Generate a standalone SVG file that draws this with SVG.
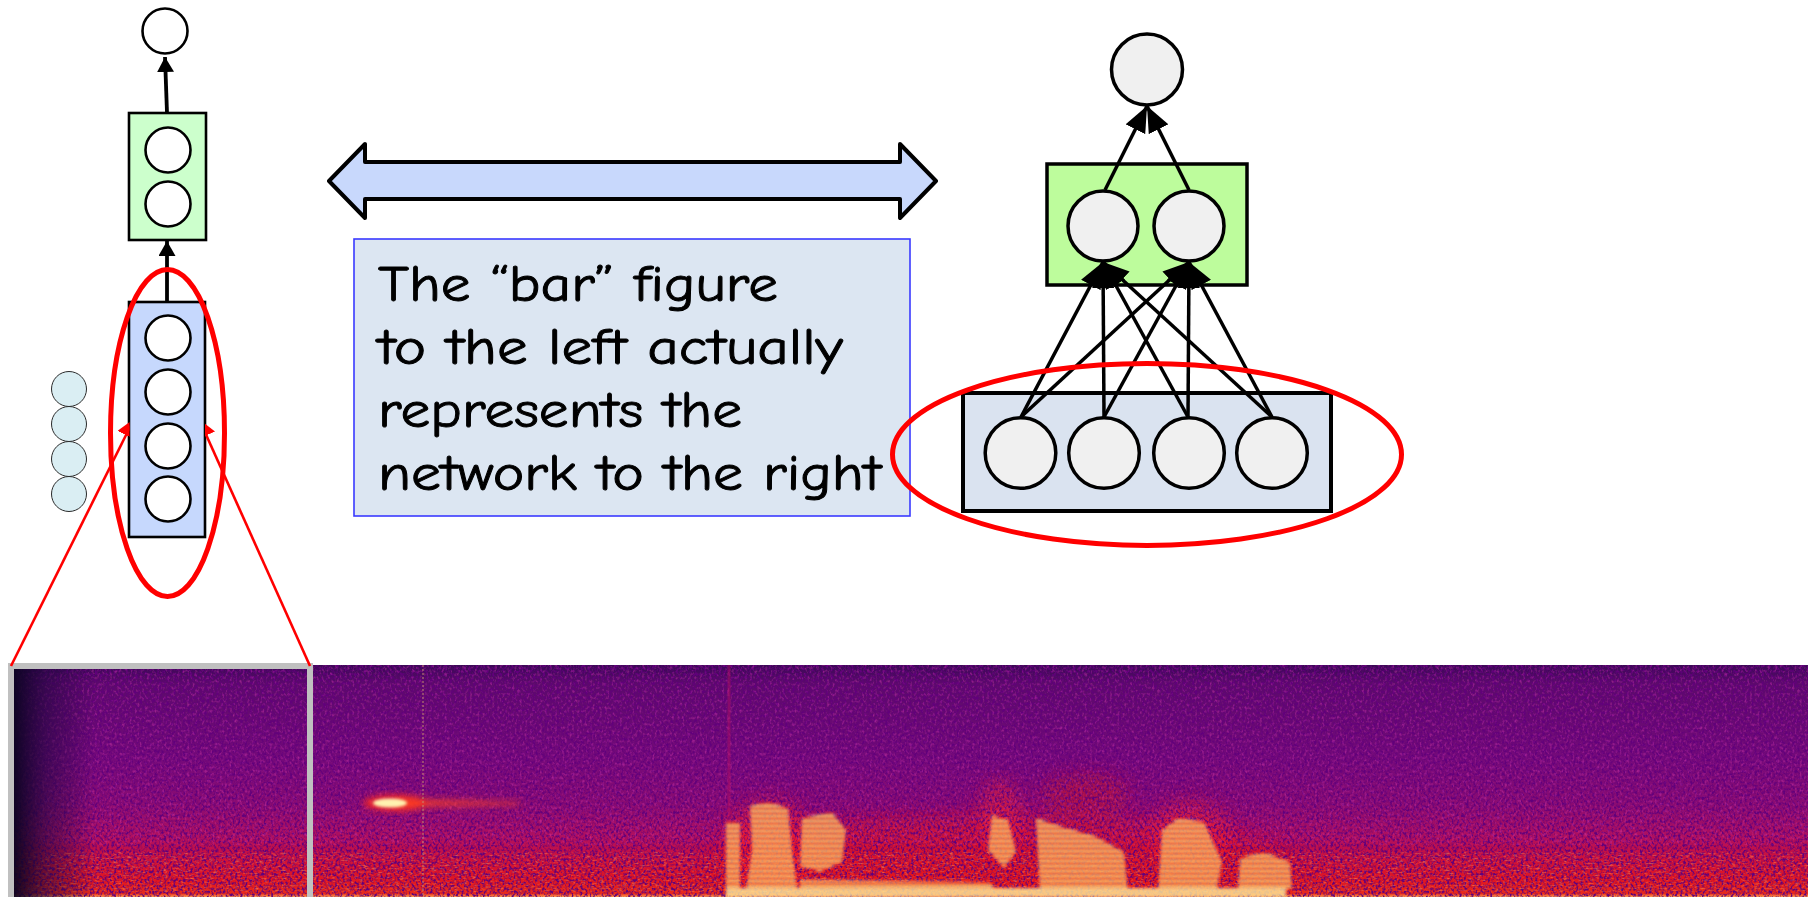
<svg xmlns="http://www.w3.org/2000/svg" width="1815" height="897" viewBox="0 0 1815 897">
<style>
.node-c{fill:#ffffff;stroke:#000;stroke-width:2.6}
.net-c{fill:#f0f0f0;stroke:#000;stroke-width:3.5}
.edge{stroke:#000;stroke-width:3.5;fill:none}
.bar-edge{stroke:#000;stroke-width:3.8;fill:none}
.red-l{stroke:#ff0000;stroke-width:2.6;fill:none}
.red-e{stroke:#ff0000;stroke-width:5;fill:none}
.small-c{fill:#daeef3;stroke:#2a2a2a;stroke-width:1}
.label{font-family:'Comic Sans MS','Comic Neue','Open Sans',sans-serif;font-size:50px;fill:#000;stroke:#000;stroke-width:0.9}
</style>
<defs>
<marker id="arrS" markerUnits="userSpaceOnUse" markerWidth="15" markerHeight="17" refX="15" refY="8.5" orient="auto" viewBox="0 0 15 17"><path d="M0,0 L15,8.5 L0,17 z" fill="#000"/></marker>
<marker id="arrN" markerUnits="userSpaceOnUse" markerWidth="26" markerHeight="22" refX="26" refY="11" orient="auto" viewBox="0 0 26 22"><path d="M0,0 L26,11 L0,22 z" fill="#000"/></marker>
<marker id="arrR" markerUnits="userSpaceOnUse" markerWidth="18" markerHeight="19" refX="18" refY="9.5" orient="auto" viewBox="0 0 18 19"><path d="M0,0 L18,9.5 L0,19 z" fill="#ff0000"/></marker>
<linearGradient id="specGrad" x1="0" y1="665" x2="0" y2="897" gradientUnits="userSpaceOnUse">
<stop offset="0" stop-color="#3a0856"/>
<stop offset="0.08" stop-color="#5c0a6c"/>
<stop offset="0.4" stop-color="#740a7a"/>
<stop offset="0.6" stop-color="#8a0c72"/>
<stop offset="0.74" stop-color="#b0105e"/>
<stop offset="0.84" stop-color="#d01238"/>
<stop offset="0.93" stop-color="#e01620"/>
<stop offset="0.985" stop-color="#e82a1c"/>
<stop offset="1" stop-color="#ffa050"/>
</linearGradient>
<linearGradient id="leftFade" x1="14" y1="0" x2="95" y2="0" gradientUnits="userSpaceOnUse">
<stop offset="0" stop-color="#0a0420" stop-opacity="0.95"/>
<stop offset="0.4" stop-color="#1a0638" stop-opacity="0.55"/>
<stop offset="1" stop-color="#1a0638" stop-opacity="0"/>
</linearGradient>
<pattern id="stripes" width="8" height="5" patternUnits="userSpaceOnUse">
<rect width="8" height="5" fill="#f02018"/>
<rect width="8" height="2.4" fill="#ffe880"/>
</pattern>
<filter id="speckle" x="0" y="0" width="100%" height="100%">
<feTurbulence type="fractalNoise" baseFrequency="0.42 0.34" numOctaves="2" seed="7"/>
<feColorMatrix type="matrix" values="0 0 0 0 0.12  0 0 0 0 0  0 0 0 0 0.2  3.4 0 0 0 -1.45"/>
</filter>
<filter id="speckle2" x="0" y="0" width="100%" height="100%">
<feTurbulence type="fractalNoise" baseFrequency="0.4 0.3" numOctaves="2" seed="21"/>
<feColorMatrix type="matrix" values="0 0 0 0 0.75  0 0 0 0 0.05  0 0 0 0 0.45  0 2.6 0 0 -1.3"/>
</filter>
<filter id="speckle3" x="0" y="0" width="100%" height="100%">
<feTurbulence type="fractalNoise" baseFrequency="0.22 0.6" numOctaves="2" seed="4"/>
<feColorMatrix type="matrix" values="0 0 0 0 1  0 0 0 0 0.3  0 0 0 0 0.1  0 3 0 0 -1.6"/>
</filter>
<filter id="blur1" x="-20%" y="-20%" width="140%" height="140%"><feGaussianBlur stdDeviation="1.4"/></filter>
<filter id="blur3" x="-20%" y="-20%" width="140%" height="140%"><feGaussianBlur stdDeviation="3"/></filter>
<filter id="blur8" x="-30%" y="-30%" width="160%" height="160%"><feGaussianBlur stdDeviation="9"/></filter>
<clipPath id="specClip"><rect x="14" y="669" width="293" height="228"/><rect x="313" y="665" width="1495" height="232"/></clipPath>
<clipPath id="outsideBar"><rect x="0" y="0" width="129.5" height="897"/><rect x="205" y="0" width="200" height="897"/></clipPath>
</defs>
<rect width="1815" height="897" fill="#ffffff"/>

<!-- spectrogram -->
<g id="spectrogram">
<g clip-path="url(#specClip)">
<rect x="9" y="665" width="1800" height="232" fill="url(#specGrad)"/>
<g filter="url(#blur8)">
<ellipse cx="1000" cy="860" rx="290" ry="45" fill="#e8141c" opacity="0.5"/>
<ellipse cx="1085" cy="795" rx="45" ry="22" fill="#c8102c" opacity="0.55"/>
<ellipse cx="770" cy="845" rx="45" ry="45" fill="#ff2020" opacity="0.55"/>
<ellipse cx="1000" cy="820" rx="22" ry="40" fill="#ff2020" opacity="0.5"/>
<ellipse cx="1190" cy="835" rx="40" ry="35" fill="#ff2020" opacity="0.5"/>
</g>
<rect x="9" y="665" width="1800" height="232" filter="url(#speckle)"/>
<rect x="9" y="665" width="1800" height="180" filter="url(#speckle2)" opacity="0.45"/>
<rect x="9" y="852" width="1800" height="40" filter="url(#speckle3)" opacity="0.55"/>
<g filter="url(#blur3)">
<ellipse cx="395" cy="803" rx="32" ry="9" fill="#ff2a20" opacity="0.8"/>
<polygon points="395,798 520,802 520,805 395,808" fill="#ff4020" opacity="0.75"/>
</g>
<ellipse cx="390" cy="803" rx="17" ry="4.5" fill="#fff2b0" filter="url(#blur1)"/>
<line x1="729" y1="665" x2="729" y2="830" stroke="#c01060" stroke-width="3" opacity="0.4"/>
<g filter="url(#blur1)" opacity="0.82">
<rect x="726" y="822" width="14" height="75" fill="url(#stripes)"/>
<polygon points="750,806 768,802 788,808 792,850 798,897 745,897 752,850" fill="url(#stripes)"/>
<polygon points="802,818 832,812 846,830 842,862 820,872 800,866" fill="url(#stripes)"/>
<polygon points="800,880 990,882 1000,897 800,897" fill="url(#stripes)"/>
<polygon points="992,815 1008,820 1016,852 1004,868 988,850" fill="url(#stripes)"/>
<polygon points="1036,818 1060,826 1095,836 1124,852 1128,893 1040,893" fill="url(#stripes)"/>
<polygon points="1162,830 1178,818 1204,822 1222,862 1216,893 1158,893" fill="url(#stripes)"/>
<polygon points="1240,858 1264,852 1290,862 1292,890 1238,890" fill="url(#stripes)"/>
<rect x="726" y="888" width="560" height="9" fill="#ffec98"/>
</g>
<line x1="423" y1="665" x2="423" y2="897" stroke="#c89070" stroke-width="1.2" stroke-dasharray="2 2" opacity="0.8"/>
<rect x="14" y="669" width="81" height="228" fill="url(#leftFade)"/>
</g>
<rect x="11" y="666" width="299" height="234" fill="none" stroke="#c0c0c0" stroke-width="6"/>
</g>

<!-- left bar figure -->
<g id="bar-output">
<circle class="node-c" cx="165" cy="31" r="22.5"/>
</g>
<g id="bar-hidden">
<rect x="129" y="113" width="77" height="127" fill="#ccffcc" stroke="#000" stroke-width="2.6"/>
<circle class="node-c" cx="168" cy="150" r="22.5"/>
<circle class="node-c" cx="168" cy="204" r="22.5"/>
</g>
<g id="bar-input">
<rect x="129" y="302" width="76" height="235" fill="#c6d8fd" stroke="#000" stroke-width="2.6"/>
<circle class="node-c" cx="168" cy="338" r="22.5"/>
<circle class="node-c" cx="168" cy="392" r="22.5"/>
<circle class="node-c" cx="168" cy="446" r="22.5"/>
<circle class="node-c" cx="168" cy="499" r="22.5"/>
</g>
<g id="small-circles">
<circle class="small-c" cx="69" cy="389" r="17.5"/>
<circle class="small-c" cx="69" cy="424" r="17.5"/>
<circle class="small-c" cx="69" cy="459" r="17.5"/>
<circle class="small-c" cx="69" cy="494" r="17.5"/>
</g>

<!-- double arrow -->
<g id="double-arrow">
<polygon points="329,181 365,144 365,162 900,162 900,144 936,181 900,218 900,199 365,199 365,218" fill="#c8d8fc" stroke="#000" stroke-width="4" stroke-linejoin="round"/>
</g>

<!-- text box -->
<g id="text-box">
<rect x="354" y="239" width="556" height="277" fill="#dce6f2" stroke="#3a3aff" stroke-width="1.6"/>
<text class="label" x="378" y="301" textLength="400" lengthAdjust="spacingAndGlyphs">The “bar” figure</text>
<text class="label" x="378" y="364" textLength="465" lengthAdjust="spacingAndGlyphs">to the left actually</text>
<text class="label" x="378" y="427" textLength="364" lengthAdjust="spacingAndGlyphs">represents the</text>
<text class="label" x="378" y="490" textLength="503" lengthAdjust="spacingAndGlyphs">network to the right</text>
</g>

<!-- right network -->
<g id="net-output">
<circle class="net-c" cx="1147" cy="69.5" r="35.5"/>
</g>
<g id="net-hidden">
<rect x="1047" y="164" width="200" height="121" fill="#bdfc9c" stroke="#000" stroke-width="3.5"/>
<circle class="net-c" cx="1103" cy="226" r="35"/>
<circle class="net-c" cx="1189" cy="226" r="35"/>
</g>
<g id="net-input">
<rect x="963" y="393" width="368" height="118" fill="#dae3f0" stroke="#000" stroke-width="4"/>
<circle class="net-c" cx="1020.5" cy="453" r="35.3"/>
<circle class="net-c" cx="1104" cy="453" r="35.3"/>
<circle class="net-c" cx="1189" cy="453" r="35.3"/>
<circle class="net-c" cx="1272" cy="453" r="35.3"/>
</g>

<!-- connectors -->
<g id="connectors">
<g clip-path="url(#outsideBar)">
<line class="red-l" x1="11" y1="666" x2="134" y2="419" marker-end="url(#arrR)"/>
<line class="red-l" x1="310" y1="666" x2="199" y2="419" marker-end="url(#arrR)"/>
</g>
<line class="bar-edge" x1="167" y1="113" x2="165" y2="57" marker-end="url(#arrS)"/>
<line class="bar-edge" x1="167" y1="302" x2="167" y2="241" marker-end="url(#arrS)"/>
<line class="edge" x1="1105" y1="190" x2="1147" y2="106" marker-end="url(#arrN)"/>
<line class="edge" x1="1189" y1="190" x2="1147" y2="106" marker-end="url(#arrN)"/>
<line class="edge" x1="1021" y1="417" x2="1103" y2="262" marker-end="url(#arrN)"/>
<line class="edge" x1="1104" y1="417" x2="1103" y2="262" marker-end="url(#arrN)"/>
<line class="edge" x1="1188" y1="417" x2="1103" y2="262" marker-end="url(#arrN)"/>
<line class="edge" x1="1272" y1="417" x2="1103" y2="262" marker-end="url(#arrN)"/>
<line class="edge" x1="1021" y1="417" x2="1189" y2="262" marker-end="url(#arrN)"/>
<line class="edge" x1="1104" y1="417" x2="1189" y2="262" marker-end="url(#arrN)"/>
<line class="edge" x1="1188" y1="417" x2="1189" y2="262" marker-end="url(#arrN)"/>
<line class="edge" x1="1272" y1="417" x2="1189" y2="262" marker-end="url(#arrN)"/>
</g>

<!-- highlights -->
<g id="bar-highlight">
<ellipse class="red-e" cx="167.5" cy="433" rx="57" ry="163.5"/>
</g>
<g id="net-highlight">
<ellipse class="red-e" cx="1147" cy="454.4" rx="254.5" ry="91"/>
</g>
</svg>
